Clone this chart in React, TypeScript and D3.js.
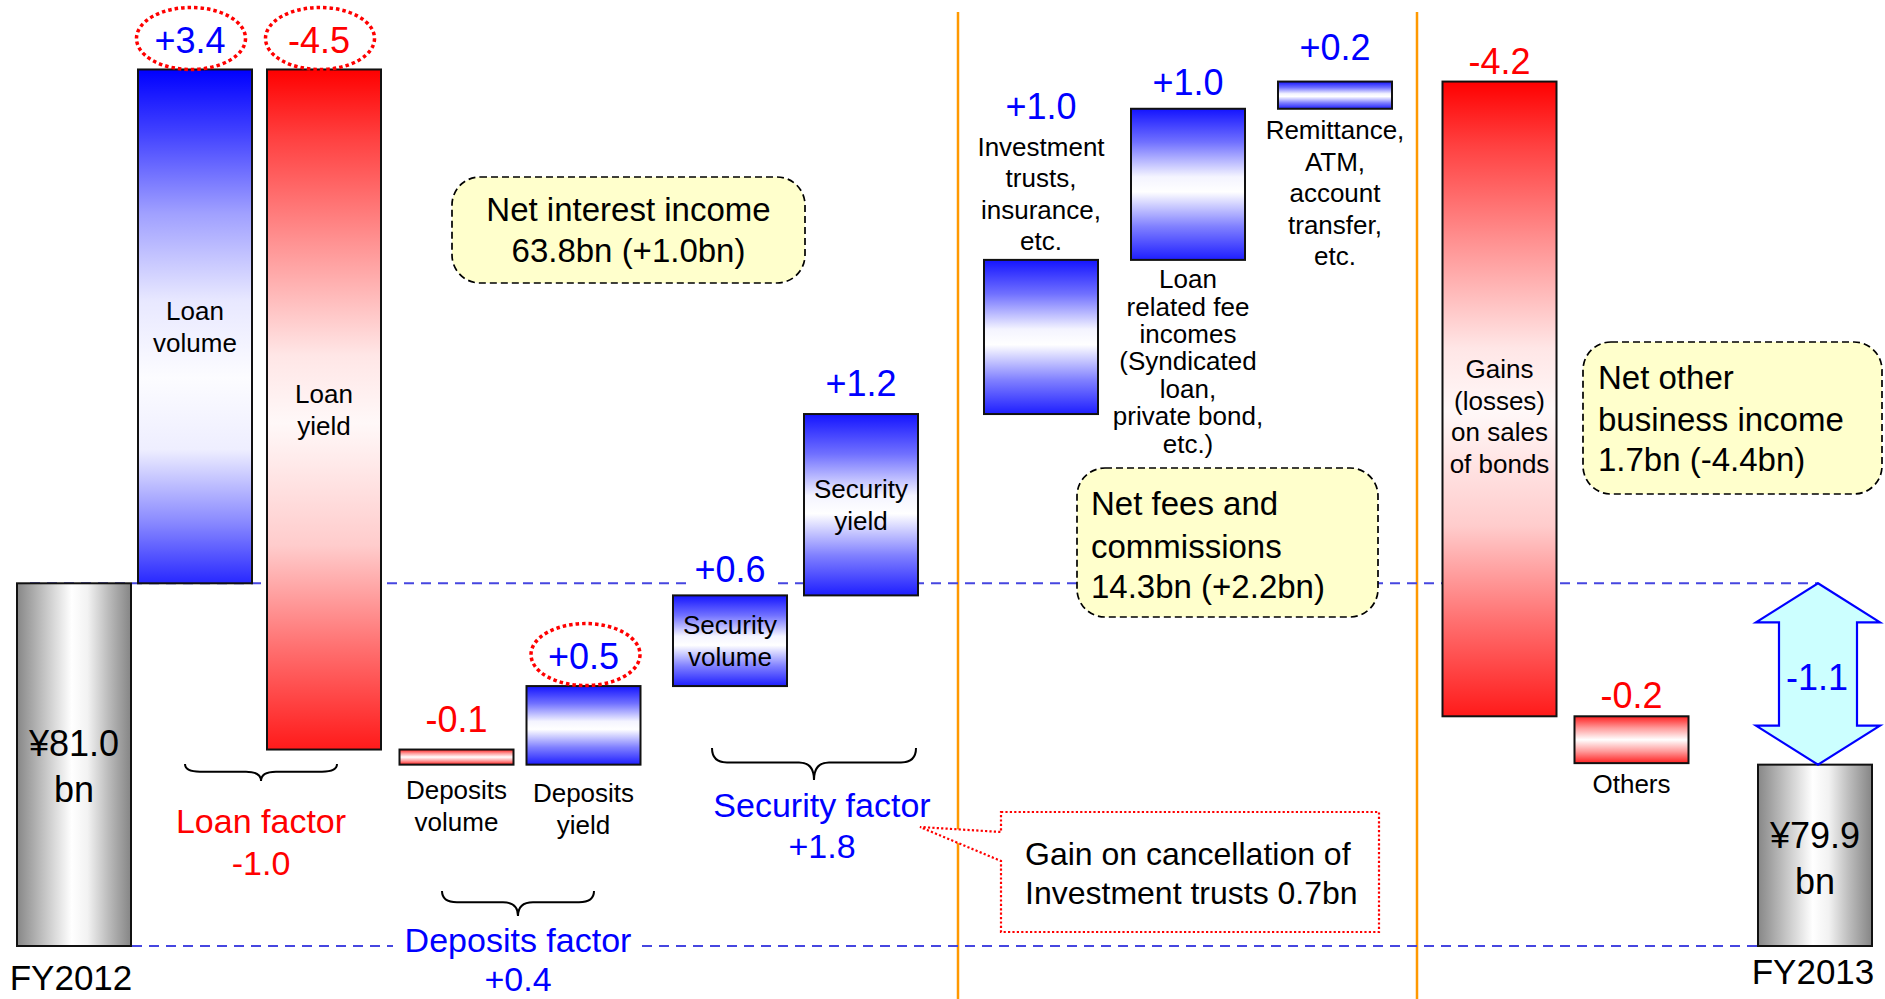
import React, { useEffect } from "react";
import * as d3 from "d3";

// ---------------- data ----------------
const totalCategories = ["FY2012", "FY2013"];
const totalValues = [81.0, 79.8]; // bar tops as drawn
const totalLabels = [["¥81.0", "bn"], ["¥79.9", "bn"]];
const axisBase = 78.6; // value at the truncated baseline

const stepCategories = [
  "Loan volume", "Loan yield", "Deposits volume", "Deposits yield",
  "Security volume", "Security yield", "Investment trusts", "Loan fees",
  "Remittance", "Bond sales", "Others",
];
const stepValues = [3.4, -4.5, -0.1, 0.52, 0.6, 1.2, 1.02, 1.0, 0.18, -4.2, -0.31];
const stepLabels = ["+3.4", "-4.5", "-0.1", "+0.5", "+0.6", "+1.2", "+1.0", "+1.0", "+0.2", "-4.2", "-0.2"];
const stepNames = [
  ["Loan", "volume"],
  ["Loan", "yield"],
  ["Deposits", "volume"],
  ["Deposits", "yield"],
  ["Security", "volume"],
  ["Security", "yield"],
  ["Investment", "trusts,", "insurance,", "etc."],
  ["Loan", "related fee", "incomes", "(Syndicated", "loan,", "private bond,", "etc.)"],
  ["Remittance,", "ATM,", "account", "transfer,", "etc."],
  ["Gains", "(losses)", "on sales", "of bonds"],
  ["Others"],
];
const circledSteps = ["Loan volume", "Loan yield", "Deposits yield"];

const factorNames = ["Loan factor", "Deposits factor", "Security factor"];
const factorLabels = ["-1.0", "+0.4", "+1.8"];

const boxTexts = [
  ["Net interest income", "63.8bn (+1.0bn)"],
  ["Net fees and", "commissions", "14.3bn (+2.2bn)"],
  ["Net other", "business income", "1.7bn (-4.4bn)"],
];
const calloutText = ["Gain on cancellation of", "Investment trusts 0.7bn"];
const diffLabel = "-1.1";

// ---------------- layout ----------------
const W = 1885, H = 999;
const FONT = "'Liberation Sans', Arial, Helvetica, sans-serif";
const BLUE = "#0000ff", RED = "#ff0000";
const allCats = [totalCategories[0], ...stepCategories, totalCategories[1]];
const catCenters = [74, 195, 324, 456.5, 583.5, 730, 861, 1041, 1188, 1335, 1499.5, 1631.5, 1815];
const x = d3.scaleOrdinal<string, number>().domain(allCats).range(catCenters);
const barW = 114;
const y = d3.scaleLinear().domain([axisBase, totalValues[0]]).range([946, 583.3]);

const stepFill = ["gLoanVol", "gRedLong", "gRedSym", "gBlueSym", "gBlueSym", "gBlueSym", "gBlueSym", "gBlueSym", "gBlueSym", "gRedLong", "gRedSym"];
const namePlace: { mode: string; gap?: number; dy?: number; lh?: number }[] = [
  { mode: "inside" }, { mode: "inside" }, { mode: "below", gap: 25 }, { mode: "below", gap: 28 },
  { mode: "inside" }, { mode: "inside" }, { mode: "above", gap: 19 }, { mode: "below", gap: 19, lh: 27.4 },
  { mode: "below", gap: 21 }, { mode: "inside", dy: 17 }, { mode: "below", gap: 20 },
];
const valueGap = [29.5, 29.5, 30.5, 30, 26.5, 31, 40, 27, 34.5, 20.5, 21];

const bracePos = [
  { x0: 185, x1: 337, y: 764, h: 17, tx: 261, ty: 821, ty2: 863 },
  { x0: 442, x1: 594, y: 891, h: 25, tx: 518, ty: 940, ty2: 979 },
  { x0: 712, x1: 916, y: 748, h: 32, tx: 822, ty: 805, ty2: 846 },
];

const boxPos = [
  { x: 452, y: 177, w: 353, h: 106, anchor: "middle", tx: 628.5, ly: [209, 250] },
  { x: 1077, y: 468, w: 301, h: 149, anchor: "start", tx: 1091, ly: [503, 546, 586] },
  { x: 1583, y: 342, w: 299, h: 152, anchor: "start", tx: 1598, ly: [377, 419, 459] },
];

function bracePath(x0: number, x1: number, yTop: number, h: number) {
  const xm = (x0 + x1) / 2;
  const ym = yTop + h * 0.45;
  const r = Math.min(15, (x1 - x0) / 8);
  return `M${x0},${yTop} Q${x0},${ym} ${x0 + r},${ym} L${xm - r},${ym} Q${xm},${ym} ${xm},${yTop + h} Q${xm},${ym} ${xm + r},${ym} L${x1 - r},${ym} Q${x1},${ym} ${x1},${yTop}`;
}

export default function App() {
  useEffect(() => {
    document.body.style.margin = "0";
  }, []);

  let running = totalValues[0];
  const steps = stepValues.map((v, i) => {
    const start = running;
    const end = running + v;
    running = end;
    const top = y(Math.max(start, end));
    const bottom = y(Math.min(start, end));
    return { i, cat: stepCategories[i], v, top, bottom, cx: x(stepCategories[i]) as number };
  });

  const baseY = y(axisBase);
  const lineX0 = 30;
  const arrowX = 1818;
  const aTop = y(totalValues[0]);
  const aBot = y(totalValues[1]);
  const headH = 39, headHW = 62, shaftHW = 39;
  const arrowPath = `M${arrowX},${aTop} L${arrowX + headHW},${aTop + headH} L${arrowX + shaftHW},${aTop + headH} L${arrowX + shaftHW},${aBot - headH} L${arrowX + headHW},${aBot - headH} L${arrowX},${aBot} L${arrowX - headHW},${aBot - headH} L${arrowX - shaftHW},${aBot - headH} L${arrowX - shaftHW},${aTop + headH} L${arrowX - headHW},${aTop + headH} Z`;

  const valueFS = 36, nameFS = 26;

  return (
    <svg width={W} height={H} viewBox={`0 0 ${W} ${H}`} style={{ position: "absolute", left: 0, top: 0, display: "block", background: "#fff" }} fontFamily={FONT}>
      <defs>
        <linearGradient id="gBlueSym" x1="0" y1="0" x2="0" y2="1">
          <stop offset="0" stopColor="#1414ff" />
          <stop offset="0.22" stopColor="#7070ff" />
          <stop offset="0.45" stopColor="#f4f4ff" />
          <stop offset="0.55" stopColor="#ffffff" />
          <stop offset="0.78" stopColor="#8080ff" />
          <stop offset="1" stopColor="#1e1eff" />
        </linearGradient>
        <linearGradient id="gLoanVol" x1="0" y1="0" x2="0" y2="1">
          <stop offset="0" stopColor="#0000ff" />
          <stop offset="0.12" stopColor="#4040ff" />
          <stop offset="0.28" stopColor="#a0a0ff" />
          <stop offset="0.45" stopColor="#e8e8ff" />
          <stop offset="0.6" stopColor="#fcfcff" />
          <stop offset="0.74" stopColor="#eeeeff" />
          <stop offset="0.88" stopColor="#8a8aff" />
          <stop offset="1" stopColor="#2828ff" />
        </linearGradient>
        <linearGradient id="gRedLong" x1="0" y1="0" x2="0" y2="1">
          <stop offset="0" stopColor="#ff0000" />
          <stop offset="0.1" stopColor="#ff4040" />
          <stop offset="0.25" stopColor="#ff9090" />
          <stop offset="0.42" stopColor="#ffe6e6" />
          <stop offset="0.52" stopColor="#fff8f8" />
          <stop offset="0.7" stopColor="#ffcccc" />
          <stop offset="0.85" stopColor="#ff7070" />
          <stop offset="1" stopColor="#ff1a1a" />
        </linearGradient>
        <linearGradient id="gRedSym" x1="0" y1="0" x2="0" y2="1">
          <stop offset="0" stopColor="#ff2020" />
          <stop offset="0.25" stopColor="#ff9a9a" />
          <stop offset="0.5" stopColor="#ffffff" />
          <stop offset="0.75" stopColor="#ff9a9a" />
          <stop offset="1" stopColor="#ff2020" />
        </linearGradient>
        <linearGradient id="gGray" x1="0" y1="0" x2="1" y2="0">
          <stop offset="0" stopColor="#878787" />
          <stop offset="0.25" stopColor="#c6c6c6" />
          <stop offset="0.48" stopColor="#ffffff" />
          <stop offset="0.62" stopColor="#f2f2f2" />
          <stop offset="0.8" stopColor="#bcbcbc" />
          <stop offset="1" stopColor="#858585" />
        </linearGradient>
      </defs>

      <rect x={0} y={0} width={W} height={H} fill="#fff" />

      {/* orange separators */}
      <line x1={958} x2={958} y1={12} y2={H} stroke="#ff9900" strokeWidth={2.5} />
      <line x1={1417} x2={1417} y1={12} y2={H} stroke="#ff9900" strokeWidth={2.5} />

      {/* blue dashed reference lines */}
      <line x1={lineX0} x2={arrowX} y1={y(totalValues[0])} y2={y(totalValues[0])} stroke="#4646e0" strokeWidth={2} strokeDasharray="10 7" />
      <line x1={lineX0} x2={1815} y1={baseY} y2={baseY} stroke="#4646e0" strokeWidth={2} strokeDasharray="10 7" />

      {/* total bars */}
      {totalCategories.map((c, i) => {
        const cx = x(c) as number;
        const top = y(totalValues[i]);
        return (
          <g key={c}>
            <rect x={cx - barW / 2} y={top} width={barW} height={baseY - top} fill="url(#gGray)" stroke="#111" strokeWidth={2} />
            {totalLabels[i].map((t, j) => (
              <text key={j} x={cx} y={(i === 0 ? 743 : 835) + j * 46 + 13} textAnchor="middle" fontSize={36} fill="#000">{t}</text>
            ))}
          </g>
        );
      })}
      <text x={71} y={990} textAnchor="middle" fontSize={35} fill="#000">{totalCategories[0]}</text>
      <text x={1813} y={984} textAnchor="middle" fontSize={35} fill="#000">{totalCategories[1]}</text>

      {/* step bars */}
      {steps.map((s) => (
        <rect key={s.cat} x={s.cx - barW / 2} y={s.top} width={barW} height={Math.max(1, s.bottom - s.top)} fill={`url(#${stepFill[s.i]})`} stroke="#111" strokeWidth={2} />
      ))}

      {/* step names */}
      {steps.map((s) => {
        const p = namePlace[s.i];
        const lines = stepNames[s.i];
        const lh = p.lh ?? 31.5;
        let firstCenter: number;
        if (p.mode === "inside") {
          firstCenter = (s.top + s.bottom) / 2 - ((lines.length - 1) * lh) / 2 + (p.dy ?? 0);
        } else if (p.mode === "below") {
          firstCenter = s.bottom + (p.gap ?? 20);
        } else {
          firstCenter = s.top - (p.gap ?? 20) - (lines.length - 1) * lh;
        }
        return (
          <g key={s.cat + "n"}>
            {lines.map((t, j) => (
              <text key={j} x={s.cx} y={firstCenter + j * lh + 9.4} textAnchor="middle" fontSize={nameFS} fill="#000">{t}</text>
            ))}
          </g>
        );
      })}

      {/* white box behind +0.6 label over dashed line */}
      {steps.filter((s) => s.cat === "Security volume").map((s) => (
        <rect key="wb" x={s.cx - 40} y={s.top - valueGap[s.i] - 22} width={84} height={44} fill="#fff" />
      ))}

      {/* value labels */}
      {steps.map((s) => {
        const p = namePlace[s.i];
        let cy: number;
        if (p.mode === "above") {
          const lines = stepNames[s.i];
          const lh = p.lh ?? 31.5;
          cy = s.top - (p.gap ?? 20) - (lines.length - 1) * lh - valueGap[s.i];
        } else {
          cy = s.top - valueGap[s.i];
        }
        const circled = circledSteps.includes(s.cat);
        return (
          <g key={s.cat + "v"}>
            {circled && (
              <ellipse cx={s.cx - 4 + (s.cat === "Deposits yield" ? 6 : 0)} cy={cy - 1.5} rx={54.5} ry={31} fill="none" stroke={RED} strokeWidth={3.5} strokeDasharray="3.5 3" />
            )}
            <text x={s.cx - (circled && s.cat !== "Deposits yield" ? 5 : 0)} y={cy + 13} textAnchor="middle" fontSize={valueFS} fill={s.v >= 0 ? BLUE : RED}>{stepLabels[s.i]}</text>
          </g>
        );
      })}

      {/* braces + factor labels */}
      {bracePos.map((b, i) => (
        <g key={"br" + i}>
          <path d={bracePath(b.x0, b.x1, b.y, b.h)} fill="none" stroke="#000" strokeWidth={2} />
          {i === 1 && <rect x={393} y={918} width={248} height={81} fill="#fff" />}
          <text x={b.tx} y={b.ty + 12} textAnchor="middle" fontSize={34} fill={factorLabels[i].startsWith("-") ? RED : BLUE}>{factorNames[i]}</text>
          <text x={b.tx} y={b.ty2 + 12} textAnchor="middle" fontSize={34} fill={factorLabels[i].startsWith("-") ? RED : BLUE}>{factorLabels[i]}</text>
        </g>
      ))}

      {/* yellow summary boxes */}
      {boxPos.map((b, i) => (
        <g key={"bx" + i}>
          <rect x={b.x} y={b.y} width={b.w} height={b.h} rx={28} ry={28} fill="#ffffcc" stroke="#000" strokeWidth={1.7} strokeDasharray="7 4" />
          {boxTexts[i].map((t, j) => (
            <text key={j} x={b.tx} y={b.ly[j] + 12} textAnchor={b.anchor as any} fontSize={33} fill="#000">{t}</text>
          ))}
        </g>
      ))}

      {/* callout */}
      <path d="M1001,812 H1379 V932 H1001 V861 L920,827 L1001,832 Z" fill="#fff" stroke={RED} strokeWidth={2.2} strokeDasharray="2.2 2.2" />
      {calloutText.map((t, j) => (
        <text key={j} x={1025} y={[853, 892][j] + 11.5} fontSize={32} fill="#000">{t}</text>
      ))}

      {/* difference arrow */}
      <path d={arrowPath} fill="#ccffff" stroke="#0000ff" strokeWidth={2.2} />
      <text x={arrowX - 1} y={(aTop + aBot) / 2 + 3 + 13} textAnchor="middle" fontSize={36} fill={BLUE}>{diffLabel}</text>
    </svg>
  );
}
